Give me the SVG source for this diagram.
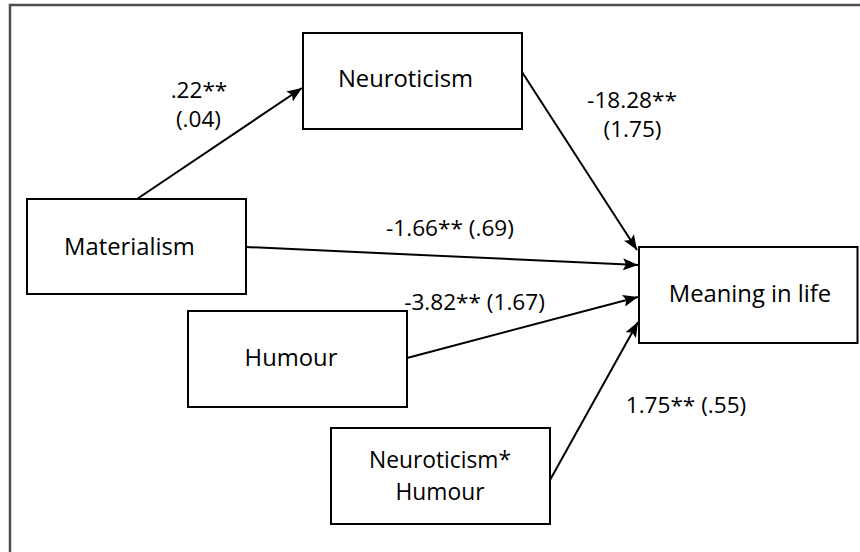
<svg xmlns="http://www.w3.org/2000/svg" width="860" height="552" viewBox="0 0 860 552">
<style>
.box{fill:#fff;stroke:#000;stroke-width:2}
.t{font-family:"Open Sans","Noto Sans",sans-serif;font-size:23.8px;fill:#000;text-anchor:middle}
.t2{font-size:22.8px}
.lbl{font-family:"Open Sans","Noto Sans",sans-serif;font-size:22.6px;fill:#000;text-anchor:middle}
.c{stroke:#000;stroke-width:2;fill:none;marker-end:url(#ah)}
</style>
<defs>
<marker id="ah" markerUnits="userSpaceOnUse" markerWidth="16" markerHeight="12" refX="15" refY="6" orient="auto">
<path d="M0,0 L15,6 L0,12 L3,6 z" fill="#000"/>
</marker>
</defs>
<rect width="860" height="552" fill="#fff"/>
<path d="M10,552 L10,5 L860,5" fill="none" stroke="#4d4d4d" stroke-width="2.5"/>
<g id="connectors">
<line class="c" x1="137" y1="199" x2="302" y2="88"/>
<line class="c" x1="522" y1="72" x2="637" y2="250"/>
<line class="c" x1="246" y1="247" x2="638" y2="265"/>
<line class="c" x1="407" y1="358" x2="638" y2="297"/>
<line class="c" x1="550" y1="480" x2="638" y2="322"/>
</g>
<g id="labels">
<text class="lbl" x="199" y="98">.22**</text>
<text class="lbl" x="198.5" y="127">(.04)</text>
<text class="lbl" x="632" y="108">-18.28**</text>
<text class="lbl" x="632.5" y="137">(1.75)</text>
<text class="lbl" x="450" y="236">-1.66** (.69)</text>
<text class="lbl" x="474.5" y="310">-3.82** (1.67)</text>
<text class="lbl" x="686" y="413">1.75** (.55)</text>
</g>
<g id="neuroticism">
<rect class="box" x="303" y="33" width="219" height="96"/>
<text class="t" x="405.5" y="87">Neuroticism</text>
</g>
<g id="materialism">
<rect class="box" x="27" y="199" width="219" height="95"/>
<text class="t" x="129.5" y="255">Materialism</text>
</g>
<g id="humour">
<rect class="box" x="188" y="311" width="219" height="96"/>
<text class="t" x="291" y="366">Humour</text>
</g>
<g id="neuroticism-humour">
<rect class="box" x="331" y="428" width="219" height="96"/>
<text class="t t2" x="440" y="468">Neuroticism*</text>
<text class="t t2" x="440" y="500">Humour</text>
</g>
<g id="meaning">
<rect class="box" x="639" y="247" width="218.5" height="96"/>
<text class="t" x="750" y="302">Meaning in life</text>
</g>
</svg>
